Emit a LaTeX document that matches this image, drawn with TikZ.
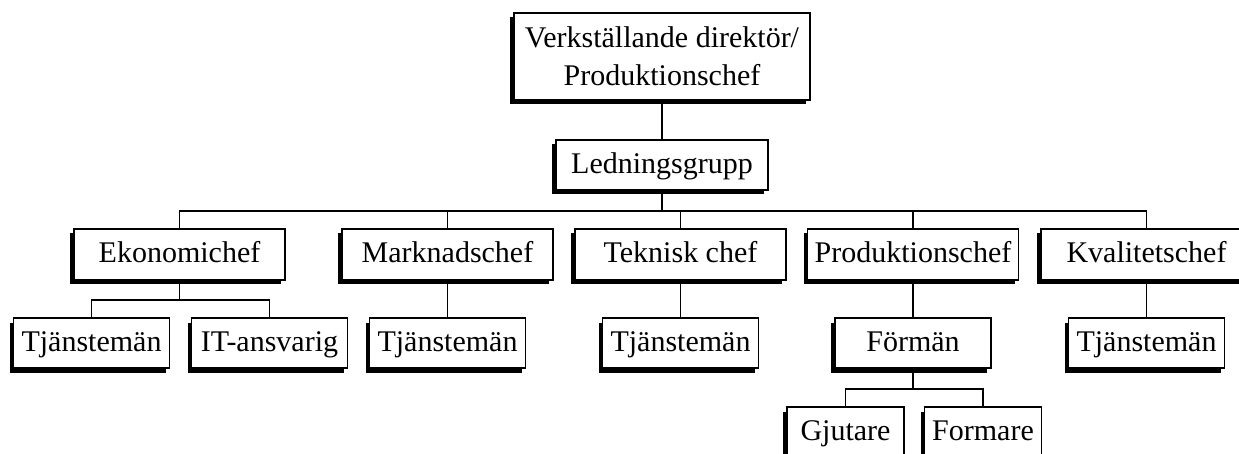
\documentclass[tikz,border=0pt]{standalone}
\usepackage{fontspec}
\setmainfont{Liberation Serif}
\usetikzlibrary{shadows}
\begin{document}
\begin{tikzpicture}[x=1pt,y=-1pt,
  box/.style={draw, line width=1.3pt, fill=white, inner sep=0pt, align=center,
    font=\fontsize{30}{38}\selectfont,
    drop shadow={shadow xshift=-4pt, shadow yshift=-4.5pt, fill=black, opacity=1, draw=none}},
  oneline/.style={box, text height=22pt, text depth=5pt},
  wide/.style={oneline, minimum width=211pt, minimum height=51pt},
  mid/.style={oneline, minimum width=156pt, minimum height=50pt},
  small/.style={oneline, minimum width=117pt, minimum height=50pt},
  link/.style={line width=1.3pt}]
\useasboundingbox (0,0) rectangle (1239,454);
\clip (0,0) rectangle (1239,454);

% top management
\node[box, minimum width=296pt, minimum height=87pt] (vd) at (662,56.5)
  {Verkställande direktör/\\Produktionschef};
\node[oneline, minimum width=212pt, minimum height=50pt] (lg) at (662,165) {Ledningsgrupp};

% department heads
\node[wide] (ek) at (179.5,254.5) {Ekonomichef};
\node[wide] (mk) at (447.5,254.5) {Marknadschef};
\node[wide] (tk) at (680.5,254.5) {Teknisk chef};
\node[wide] (pc) at (913,254.5) {Produktionschef};
\node[wide] (kv) at (1146.5,254.5) {Kvalitetschef};

% staff
\node[mid] (ek1) at (91.5,343) {Tjänstemän};
\node[mid] (ek2) at (269.5,343) {IT-ansvarig};
\node[mid] (mk1) at (447.5,343) {Tjänstemän};
\node[mid] (tk1) at (680.5,343) {Tjänstemän};
\node[mid] (pc1) at (913,343) {Förmän};
\node[mid] (kv1) at (1146.5,343) {Tjänstemän};

% workers
\node[small] (gj) at (845.5,432) {Gjutare};
\node[small] (fo) at (983,432) {Formare};

% connectors
\coordinate (bus) at (662,211);
\coordinate (ekbus) at (179.5,300);
\coordinate (pcbus) at (913,389);

\draw[link] (vd.south) -- (lg.north);
\draw[link] (lg.south) -- (bus);
\draw[link] (ek.north) |- (bus) -| (kv.north);
\draw[link] (mk.north) -- (mk.north |- bus);
\draw[link] (tk.north) -- (tk.north |- bus);
\draw[link] (pc.north) -- (pc.north |- bus);

\draw[link] (ek.south) -- (ekbus);
\draw[link] (ek1.north) |- (ekbus) -| (ek2.north);
\draw[link] (mk.south) -- (mk1.north);
\draw[link] (tk.south) -- (tk1.north);
\draw[link] (kv.south) -- (kv1.north);

\draw[link] (pc.south) -- (pc1.north);
\draw[link] (pc1.south) -- (pcbus);
\draw[link] (gj.north) |- (pcbus) -| (fo.north);
\end{tikzpicture}
\end{document}
